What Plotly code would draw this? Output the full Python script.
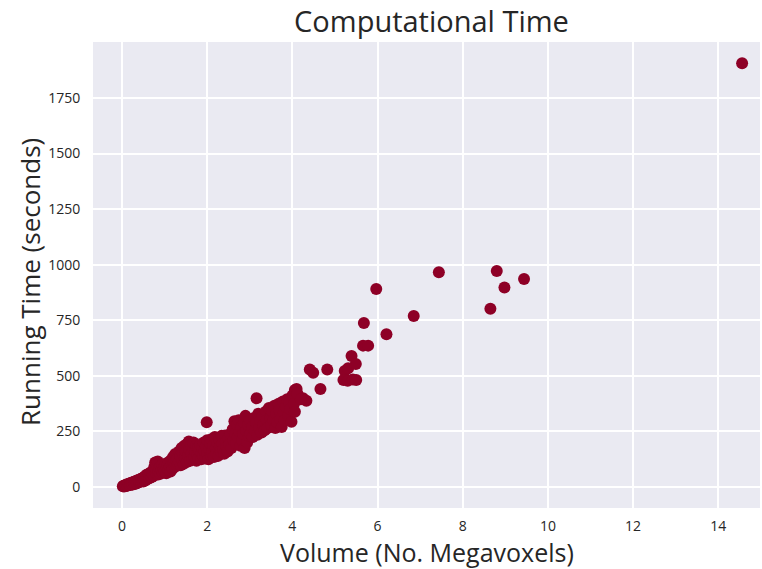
import plotly.graph_objects as go

# Volume (No. Megavoxels) and Running Time (seconds)
volume = [
    0.02, 0.04, 0.05, 0.07, 0.08, 0.10, 0.10, 0.12, 0.13, 0.15, 0.16, 0.18, 0.20, 0.20, 0.22, 0.24, 0.25,
    0.27, 0.28, 0.30, 0.30, 0.32, 0.34, 0.35, 0.37, 0.38, 0.40, 0.41, 0.43, 0.45, 0.46, 0.48, 0.50, 0.50,
    0.52, 0.54, 0.55, 0.57, 0.58, 0.60, 0.62, 0.63, 0.65, 0.67, 0.68, 0.70, 0.72, 0.73, 0.75, 0.76, 0.78,
    0.80, 0.81, 0.82, 0.84, 0.85, 0.86, 0.88, 0.90, 0.91, 0.93, 0.95, 0.96, 0.98, 1.00, 1.00,
    1.02, 1.04, 1.05, 1.07, 1.09, 1.10, 1.12, 1.14, 1.15, 1.17, 1.19, 1.20, 1.22, 1.24, 1.25, 1.27, 1.29,
    1.30, 1.32, 1.34, 1.35, 1.37, 1.38, 1.40, 1.41, 1.43, 1.45, 1.46, 1.48, 1.50,
    1.52, 1.54, 1.55, 1.57, 1.58, 1.60, 1.62, 1.63, 1.65, 1.67, 1.68, 1.70, 1.72, 1.74, 1.75, 1.77, 1.79,
    1.80, 1.82, 1.84, 1.86, 1.87, 1.89, 1.90, 1.92, 1.94, 1.95, 1.97, 1.99, 2.00, 2.00,
    2.03, 2.05, 2.07, 2.09, 2.10, 2.12, 2.14, 2.16, 2.18, 2.20, 2.22, 2.24, 2.26, 2.28, 2.30, 2.32, 2.34,
    2.36, 2.38, 2.40, 2.42, 2.44, 2.46, 2.48, 2.50,
    2.52, 2.55, 2.57, 2.60, 2.62, 2.64, 2.66, 2.68, 2.70, 2.72, 2.74, 2.76, 2.78, 2.80, 2.82, 2.84, 2.86,
    2.88, 2.90, 2.92, 2.94, 2.96, 2.98, 3.00,
    3.02, 3.05, 3.07, 3.10, 3.12, 3.16, 3.15, 3.18, 3.20, 3.22, 3.25, 3.28, 3.30, 3.32, 3.35, 3.38, 3.40,
    3.42, 3.45, 3.48, 3.50,
    3.53, 3.56, 3.58, 3.60, 3.62, 3.65, 3.68, 3.70, 3.72, 3.75, 3.78, 3.80, 3.82, 3.85, 3.88, 3.90, 3.93,
    3.95, 3.98, 4.00, 4.02, 4.04, 4.06, 4.06, 4.10, 4.12, 4.25, 4.33, 4.20,
    4.41, 4.49, 4.66, 4.82, 5.23, 5.31, 5.20, 5.30, 5.42, 5.50, 5.39, 5.49, 5.66, 5.78, 5.68, 5.97, 6.21,
    6.85, 7.44, 8.65, 8.80, 8.98, 9.44, 14.56,
]
running_time = [
    3, 6, 2, 8, 5, 9, 4, 12, 7, 10, 15, 12, 18, 9, 14, 20, 11,
    22, 16, 25, 13, 19, 28, 17, 24, 32, 21, 29, 35, 26, 38, 30, 42, 25,
    34, 48, 29, 40, 55, 36, 46, 60, 40, 52, 66, 45, 58, 72, 50, 90, 110,
    62, 78, 98, 115, 56, 70, 86, 60, 95, 75, 100, 65, 82, 92, 70,
    105, 62, 85, 98, 78, 112, 90, 70, 120, 100, 82, 135, 108, 92, 148, 118, 95,
    130, 105, 160, 115, 140, 98, 175, 122, 150, 105, 185, 132, 160,
    112, 195, 140, 205, 170, 118, 190, 150, 125, 175, 200, 135, 160, 185, 118, 145, 178,
    130, 165, 190, 125, 150, 175, 140, 200, 160, 128, 185, 291, 150, 210,
    125, 170, 195, 140, 215, 160, 185, 135, 225, 175, 150, 200, 140, 215, 180, 160, 230,
    195, 170, 150, 232, 205, 180, 160, 220,
    190, 240, 175, 260, 210, 296, 240, 195, 280, 225, 300, 250, 185, 270, 210, 240, 290,
    175, 320, 255, 200, 280, 230, 300,
    240, 270, 225, 310, 255, 399, 290, 235, 330, 265, 300, 245, 320, 280, 255, 340, 300,
    265, 355, 310, 280,
    340, 300, 365, 265, 330, 290, 375, 345, 305, 270, 385, 335, 300, 360, 395, 320, 380,
    350, 294, 410, 414, 375, 339, 436, 441, 420, 399, 388, 395,
    529, 514, 441, 529, 522, 534, 481, 478, 484, 481, 589, 553, 636, 636, 738, 891, 687,
    769, 966, 802, 972, 897, 936, 1906,
]

x_ticks = [0, 2, 4, 6, 8, 10, 12, 14]
y_ticks = [0, 250, 500, 750, 1000, 1250, 1500, 1750]

FONT = "Open Sans, Noto Sans, DejaVu Sans, sans-serif"
TEXT = "#262626"

fig = go.Figure(
    go.Scatter(
        x=volume,
        y=running_time,
        mode="markers",
        marker=dict(size=12, color="#8E0026", line=dict(width=0)),
        hoverinfo="x+y",
    )
)

fig.update_layout(
    width=762,
    height=569,
    margin=dict(l=93, r=2, t=42, b=61, autoexpand=False),
    paper_bgcolor="white",
    plot_bgcolor="#EAEAF2",
    showlegend=False,
    font=dict(family=FONT, color=TEXT),
    title=dict(
        text="Computational Time",
        x=(93 + 770) / 2 / 762,
        xref="container",
        xanchor="center",
        y=1 - 22 / 569,
        yref="container",
        yanchor="middle",
        font=dict(size=29, family=FONT, color=TEXT),
    ),
    annotations=[
        dict(
            text="Volume (No. Megavoxels)",
            xref="paper", yref="paper",
            x=0.5, y=(508 - 552) / 466,
            xanchor="center", yanchor="middle",
            showarrow=False,
            font=dict(size=25, family=FONT, color=TEXT),
        ),
        dict(
            text="Running Time (seconds)",
            xref="paper", yref="paper",
            x=(30 - 93) / 667, y=(508 - 282) / 466,
            xanchor="center", yanchor="middle",
            textangle=-90,
            showarrow=False,
            font=dict(size=26, family=FONT, color=TEXT),
        ),
    ],
)

fig.update_xaxes(
    range=[-0.68, 14.98],
    tickvals=x_ticks,
    ticktext=[str(v) for v in x_ticks],
    showgrid=True,
    gridcolor="white",
    gridwidth=1.5,
    zeroline=False,
    showline=False,
    automargin=False,
    ticks="outside",
    ticklen=5,
    tickcolor="rgba(0,0,0,0)",
    tickfont=dict(size=14, color=TEXT),
)

fig.update_yaxes(
    range=[-94.5, 2002],
    tickvals=y_ticks,
    ticktext=[str(v) for v in y_ticks],
    showgrid=True,
    gridcolor="white",
    gridwidth=1.5,
    zeroline=False,
    showline=False,
    automargin=False,
    ticks="outside",
    ticklen=9,
    tickcolor="rgba(0,0,0,0)",
    tickfont=dict(size=14, color=TEXT),
)

fig.write_html(
    "out.html",
    config={"displayModeBar": False},
    post_script="document.body.style.margin='0';document.body.style.padding='0';",
)
